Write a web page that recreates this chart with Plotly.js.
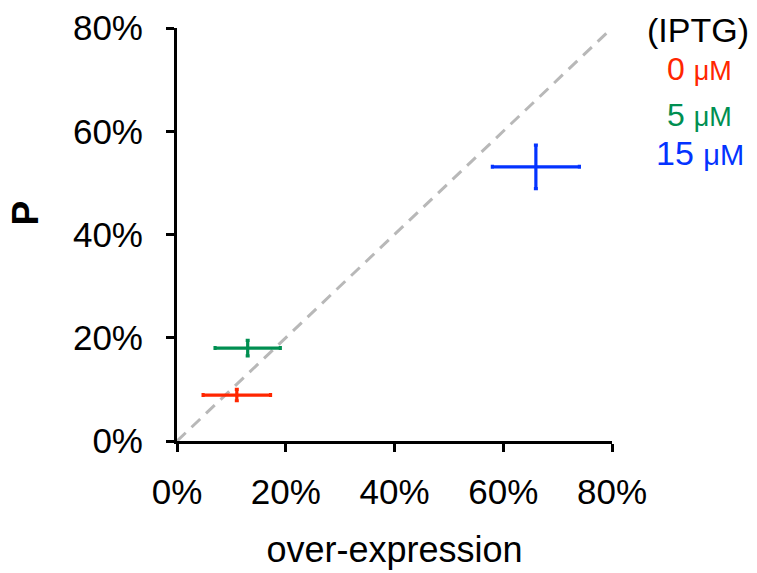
<!DOCTYPE html>
<html>
<head>
<meta charset="utf-8">
<script src="https://cdn.plot.ly/plotly-3.0.1.min.js"></script>
<style>html,body{margin:0;padding:0;background:#fff;}#chart{width:757px;height:573px;}</style>
</head>
<body>
<div id="chart"></div>
<script>
// Data (percent)
const labels = ["0 μM", "5 μM", "15 μM"];
const colors = ["#FF2600", "#008F51", "#0433FF"];
const overExpression = [11.0, 13.0, 66.0];
const overExpressionErr = [6.2, 6.0, 8.0];
const pValues = [8.9, 18.0, 53.1];
const pErr = [1.1, 1.5, 4.2];
const diagonal = [0, 80];
const tickVals = [0, 20, 40, 60, 80];
const tickText = ["0%", "20%", "40%", "60%", "80%"];

const FONT = "Liberation Sans, Arial, Helvetica, sans-serif";

const traces = [{
  x: diagonal, y: diagonal, mode: "lines", type: "scatter",
  line: {color: "#B8B8B8", width: 3, dash: "12px,8px"},
  hoverinfo: "skip", showlegend: false
}];
labels.forEach((lab, i) => {
  traces.push({
    x: [overExpression[i]], y: [pValues[i]], type: "scatter", mode: "markers",
    name: lab, showlegend: false,
    marker: {size: 1, opacity: 0, color: colors[i]},
    error_x: {type: "data", array: [overExpressionErr[i]], visible: true, color: colors[i], thickness: 3.2, width: 2},
    error_y: {type: "data", array: [pErr[i]], visible: true, color: colors[i], thickness: 3.2, width: 2}
  });
});

const axisCommon = {
  range: [0, 80], tickmode: "array", tickvals: tickVals, ticktext: tickText,
  showgrid: false, zeroline: false, showline: true,
  linecolor: "#000", linewidth: 3, ticks: "outside", ticklen: 8, tickwidth: 3, tickcolor: "#000",
  tickfont: {family: FONT, size: 35, color: "#000"}, fixedrange: true
};

const annotations = [
  {text: "(IPTG)", x: 1.198, y: 0.995, color: "#000", size: 34},
  {text: "0 <span style='font-size:27px'>μM</span>", x: 1.202, y: 0.900, color: colors[0], size: 32},
  {text: "5 <span style='font-size:27px'>μM</span>", x: 1.202, y: 0.790, color: colors[1], size: 32},
  {text: "15 <span style='font-size:29px'>μM</span>", x: 1.202, y: 0.698, color: colors[2], size: 34}
].map(a => ({
  text: a.text, x: a.x, y: a.y, xref: "paper", yref: "paper",
  xanchor: "center", yanchor: "middle", showarrow: false,
  font: {family: FONT, size: a.size, color: a.color}
}));
annotations.push({
  text: "<b>P</b>", x: -0.349, y: 0.551, xref: "paper", yref: "paper",
  xanchor: "center", yanchor: "middle", showarrow: false, textangle: -90,
  font: {family: FONT, size: 37, color: "#000"}
});

const layout = {
  width: 757, height: 573,
  margin: {l: 177, r: 145, t: 28, b: 132},
  paper_bgcolor: "#fff", plot_bgcolor: "#fff",
  showlegend: false,
  xaxis: Object.assign({}, axisCommon, {
    ticklabelstandoff: 10,
    title: {text: "over-expression", font: {family: FONT, size: 36, color: "#000"}, standoff: 27}
  }),
  yaxis: Object.assign({}, axisCommon, {ticklabelstandoff: 16}),
  annotations: annotations
};

Plotly.newPlot("chart", traces, layout, {displayModeBar: false, staticPlot: true});
</script>
</body>
</html>
